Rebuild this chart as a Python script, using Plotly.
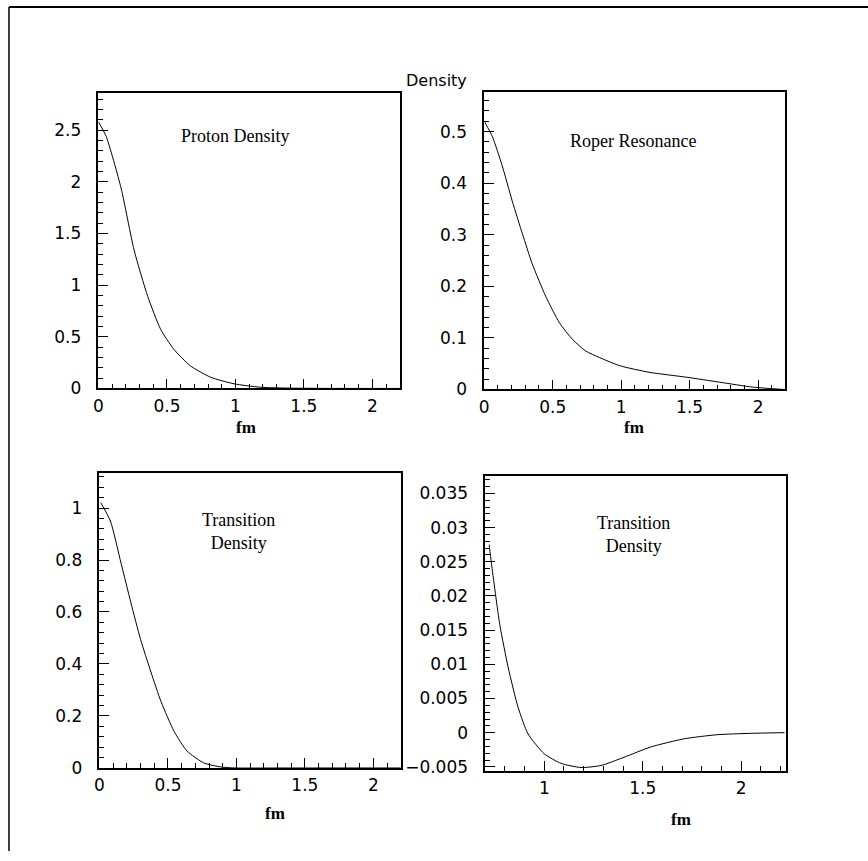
import plotly.graph_objects as go

# ---------------- data ----------------
r_proton = [0.0, 0.056, 0.165, 0.26, 0.36, 0.455, 0.55, 0.67, 0.82, 0.99, 1.18, 1.4, 1.7, 2.0, 2.2]
rho_proton = [2.58, 2.44, 1.94, 1.34, 0.89, 0.57, 0.38, 0.22, 0.108, 0.045, 0.012, 0.003, 0.0005, 0.0, 0.0]

r_roper = [0.005, 0.06, 0.13, 0.205, 0.28, 0.35, 0.45, 0.55, 0.645, 0.74, 0.84, 0.99, 1.21, 1.48, 1.72, 1.96, 2.18]
rho_roper = [0.518, 0.49, 0.435, 0.365, 0.301, 0.244, 0.18, 0.129, 0.097, 0.0747, 0.062, 0.046, 0.033, 0.0236, 0.014, 0.0045, 0.0]

r_trans = [0.01, 0.08, 0.158, 0.23, 0.30, 0.376, 0.45, 0.545, 0.64, 0.76, 0.885, 1.0, 1.3, 1.7, 2.2]
rho_trans = [1.02, 0.95, 0.787, 0.635, 0.495, 0.369, 0.255, 0.141, 0.065, 0.02, 0.004, 0.0, 0.0, 0.0, 0.0]

r_trans_zoom = [0.72, 0.732, 0.774, 0.817, 0.867, 0.918, 1.0, 1.086, 1.187, 1.288, 1.405, 1.54, 1.71, 1.877, 2.045, 2.22]
rho_trans_zoom = [0.0275, 0.0247, 0.0158, 0.0095, 0.0037, -0.0002, -0.0031, -0.0045, -0.0051, -0.0048,
                  -0.0036, -0.0021, -0.0009, -0.0003, -0.0001, 0.0]

panel_titles = ["Proton Density", "Roper Resonance", "Transition<br>Density", "Transition<br>Density"]
main_title = "Density"
x_title = "fm"

# ---------------- layout helpers ----------------
W, H = 868, 861

def px_x(v):
    return v / W

def px_y(v):
    return 1 - v / H

panels = [
    dict(x=(94, 397), y=(94, 393), xr=[0, 2.2], yr=[0, 2.86], ydt=0.5, ymin=0.1, xdt=0.5, xmin=0.1),
    dict(x=(482, 785), y=(93, 394), xr=[0, 2.2], yr=[0, 0.577], ydt=0.1, ymin=0.02, xdt=0.5, xmin=0.1),
    dict(x=(95, 398), y=(479, 777), xr=[0, 2.2], yr=[0, 1.133], ydt=0.2, ymin=0.04, xdt=0.5, xmin=0.1),
    dict(x=(483, 786), y=(482, 780), xr=[0.7, 2.23], yr=[-0.0056, 0.0375], ydt=0.005, ymin=0.001, xdt=0.5, xmin=0.1),
]

series = [(r_proton, rho_proton), (r_roper, rho_roper), (r_trans, rho_trans), (r_trans_zoom, rho_trans_zoom)]

fig = go.Figure()
tickfont = dict(family="DejaVu Sans", size=17, color="black")

for i, (p, (xs, ys)) in enumerate(zip(panels, series)):
    n = "" if i == 0 else str(i + 1)
    fig.add_trace(go.Scatter(x=xs, y=ys, mode="lines", xaxis="x" + n, yaxis="y" + n,
                             line=dict(color="black", width=1, shape="spline", smoothing=0.6),
                             showlegend=False, hoverinfo="skip"))
    xa = dict(domain=[px_x(p["x"][0]), px_x(p["x"][1])], range=p["xr"], anchor="y" + n,
              showline=True, linecolor="black", linewidth=1.5, mirror=True,
              ticks="inside", ticklen=10, tickwidth=1, tickcolor="black", dtick=p["xdt"], tick0=0,
              minor=dict(ticks="inside", ticklen=5, dtick=p["xmin"], tickcolor="black", tickwidth=1),
              showgrid=False, zeroline=False, tickfont=tickfont, ticklabelstandoff=1)
    ya = dict(domain=[px_y(p["y"][1]), px_y(p["y"][0])], range=p["yr"], anchor="x" + n,
              showline=True, linecolor="black", linewidth=1.5, mirror=True,
              ticks="inside", ticklen=10, tickwidth=1, tickcolor="black", dtick=p["ydt"], tick0=0,
              minor=dict(ticks="inside", ticklen=5, dtick=p["ymin"], tickcolor="black", tickwidth=1),
              showgrid=False, zeroline=False, tickfont=tickfont, ticklabelstandoff=12)
    fig.layout["xaxis" + n] = xa
    fig.layout["yaxis" + n] = ya

annotations = []
title_pos = [(232, 138), (632, 143), (235, 538), (632, 541)]
for t, (ax, ay) in zip(panel_titles, title_pos):
    annotations.append(dict(text=t, x=px_x(ax), y=px_y(ay), xref="paper", yref="paper",
                            showarrow=False, xanchor="center", yanchor="middle",
                            font=dict(family="Liberation Serif", size=18, color="black")))
fm_pos = [(242, 433), (633, 433), (272, 823), (680, 829)]
for (ax, ay) in fm_pos:
    annotations.append(dict(text="<b>" + x_title + "</b>", x=px_x(ax), y=px_y(ay), xref="paper", yref="paper",
                            showarrow=False, xanchor="center", yanchor="middle",
                            font=dict(family="Liberation Serif", size=17, color="black")))
annotations.append(dict(text=main_title, x=px_x(434), y=px_y(81), xref="paper", yref="paper",
                        showarrow=False, xanchor="center", yanchor="middle",
                        font=dict(family="DejaVu Sans", size=16, color="black")))

shapes = [
    dict(type="line", xref="paper", yref="paper", x0=px_x(4), x1=1, y0=px_y(7), y1=px_y(7),
         line=dict(color="black", width=2)),
    dict(type="line", xref="paper", yref="paper", x0=px_x(4), x1=px_x(4), y0=0, y1=px_y(7),
         line=dict(color="black", width=1.5)),
]

fig.update_layout(width=W, height=H, margin=dict(l=0, r=0, t=0, b=0),
                  paper_bgcolor="white", plot_bgcolor="white",
                  annotations=annotations, shapes=shapes)

fig.write_html("out.html", config=dict(displayModeBar=False),
               post_script="document.body.style.margin='0px';document.body.style.overflow='hidden';")
